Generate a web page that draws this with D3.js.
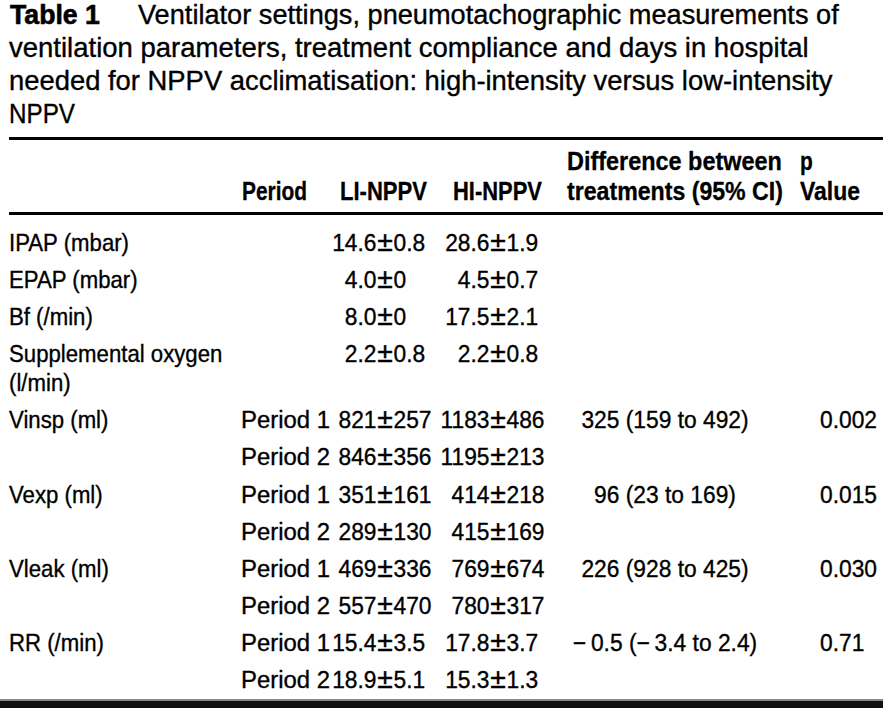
<!DOCTYPE html>
<html><head><meta charset="utf-8">
<script src="https://cdn.jsdelivr.net/npm/d3@7"></script>
<style>
html,body{margin:0;padding:0;background:#fff;}
svg{display:block;}
</style></head>
<body>
<svg id="c" width="883" height="708"></svg>
<script>
// ---- data ----
const titleBold = "Table 1";
const titleLines = [
  "Ventilator settings, pneumotachographic measurements of",
  "ventilation parameters, treatment compliance and days in hospital",
  "needed for NPPV acclimatisation: high-intensity versus low-intensity",
  "NPPV"
];
const headerTop = ["", "", "", "", "Difference between", "p"];
const headerBottom = ["", "Period", "LI-NPPV", "HI-NPPV", "treatments (95% CI)", "Value"];
const parameters = ["IPAP (mbar)", "EPAP (mbar)", "Bf (/min)", "Supplemental oxygen|(l/min)", "Vinsp (ml)", "", "Vexp (ml)", "", "Vleak (ml)", "", "RR (/min)", ""];
const periods = ["", "", "", "", "Period 1", "Period 2", "Period 1", "Period 2", "Period 1", "Period 2", "Period 1", "Period 2"];
const liMean = ["14.6", "4.0", "8.0", "2.2", "821", "846", "351", "289", "469", "557", "15.4", "18.9"];
const liSD   = ["0.8", "0", "0", "0.8", "257", "356", "161", "130", "336", "470", "3.5", "5.1"];
const hiMean = ["28.6", "4.5", "17.5", "2.2", "1183", "1195", "414", "415", "769", "780", "17.8", "15.3"];
const hiSD   = ["1.9", "0.7", "2.1", "0.8", "486", "213", "218", "169", "674", "317", "3.7", "1.3"];
const differences = ["", "", "", "", "325 (159 to 492)", "", "96 (23 to 169)", "", "226 (928 to 425)", "", "\u22120.5 (\u22123.4 to 2.4)", ""];
const pValues = ["", "", "", "", "0.002", "", "0.015", "", "0.030", "", "0.71", ""];

// ---- layout ----
const FONT = "'Liberation Sans',Arial,sans-serif";
const svg = d3.select("#c");
const W = 883;

function txt(parent, str, x, y, sx, opts = {}) {
  const g = parent.append("g").attr("transform", `translate(${x},${y}) scale(${sx},1)`);
  const t = g.append("text").attr("x", 0).attr("y", 0);
  if (opts.anchor) t.attr("text-anchor", opts.anchor);
  if (opts.size) t.attr("font-size", opts.size);
  if (opts.minusGap) {
    const parts = str.split("\u2212");
    parts.forEach((p, k) => {
      if (k > 0) t.append("tspan").text("\u2212");
      if (p) t.append("tspan").attr("dx", k > 0 ? opts.minusGap : 0).text(p);
    });
  } else t.text(str);
  return t;
}
function natW(parent, str) {
  const t = parent.append("text").text(str);
  const w = t.node().getComputedTextLength();
  t.remove();
  return w;
}
function fit(parent, str, x, y, target) {
  return txt(parent, str, x, y, target / natW(parent, str));
}

// title
const tY = d3.scaleLinear().domain([0, 3]).range([23.5, 123]);
const title = svg.append("g").attr("font-family", FONT).attr("font-size", 27)
  .attr("stroke", "#000").attr("stroke-width", 0.35);
const tbG = title.append("g").attr("font-weight", "bold").attr("stroke-width", 0.6);
fit(tbG, titleBold, 10, tY(0), 90);
const titleTargets = [[138, 839], [9, 809], [9, 833], [9, 75]];
titleLines.forEach((t, i) => fit(title, t, titleTargets[i][0], tY(i), titleTargets[i][1] - titleTargets[i][0]));

// rules
svg.append("rect").attr("x", 9).attr("y", 137).attr("width", W - 9).attr("height", 3).attr("fill", "#000");
svg.append("rect").attr("x", 9).attr("y", 212).attr("width", W - 9).attr("height", 3).attr("fill", "#000");
svg.append("rect").attr("x", 0).attr("y", 699).attr("width", W).attr("height", 2).attr("fill", "#8a8a8a");
svg.append("rect").attr("x", 0).attr("y", 701).attr("width", W).attr("height", 7).attr("fill", "#111");

// header
const headX = [9, 242, 340, 453, 567, 800];
const headTopW = [0, 0, 0, 0, 215, 0];
const headBotW = [0, 65, 87, 89, 216, 60];
const hdr = svg.append("g").attr("font-family", FONT).attr("font-weight", "bold").attr("font-size", 25)
  .attr("stroke", "#000").attr("stroke-width", 0.3);
const sxHead = 65 / natW(hdr, "Period");
headerTop.forEach((t, i) => { if (t) (headTopW[i] ? fit(hdr, t, headX[i], 170, headTopW[i]) : txt(hdr, t, headX[i], 170, sxHead)); });
headerBottom.forEach((t, i) => { if (t) fit(hdr, t, headX[i], 200, headBotW[i]); });

// body rows
const rowIdx = d3.range(parameters.length);
const wrapExtra = 29;
const yRow = d3.scaleLinear().domain([0, 11]).range([251, 688 - wrapExtra]);
const yOf = i => yRow(i) + (i >= 4 ? wrapExtra : 0);

const body = svg.append("g").attr("font-family", FONT).attr("font-size", 24)
  .attr("stroke", "#000").attr("stroke-width", 0.35);
const sx = 120 / natW(body, "IPAP (mbar)");
const sxNum = 0.95;
const sxPer = 89 / natW(body, "Period 1");

rowIdx.forEach(i => {
  const y = yOf(i);
  const parts = parameters[i].split("|");
  parts.forEach((p, k) => { if (p) txt(body, p, 9, y + k * wrapExtra, sx); });
  if (periods[i]) txt(body, periods[i], 241, y, sxPer);
});

// mean ± sd aligned on the ± sign
const pmSlot = 17;
function pmCell(mean, sd, cx, y) {
  txt(body, mean, cx - pmSlot / 2, y, sxNum, { anchor: "end" });
  txt(body, "\u00b1", cx, y, 1.05, { anchor: "middle", size: 27 });
  txt(body, sd, cx + pmSlot / 2, y, sxNum);
}
const colPM = d3.scaleOrdinal().domain(["LI", "HI"]).range([385, 498]);
rowIdx.forEach(i => {
  const y = yOf(i);
  pmCell(liMean[i], liSD[i], colPM("LI"), y);
  pmCell(hiMean[i], hiSD[i], colPM("HI"), y);
  if (differences[i]) txt(body, differences[i], 665, y, sxNum, { anchor: "middle", minusGap: 5 });
  if (pValues[i]) txt(body, pValues[i], 820, y, sxNum);
});
</script>
</body></html>
